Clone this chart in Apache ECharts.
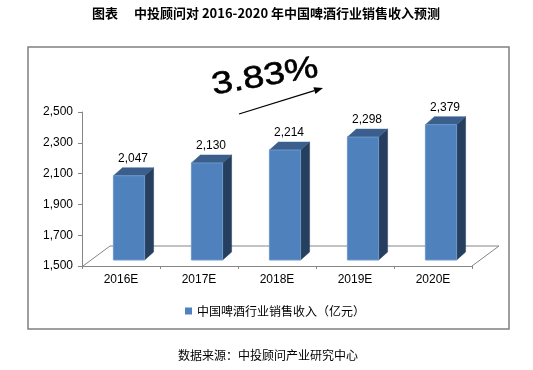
<!DOCTYPE html>
<html><head><meta charset="utf-8">
<script src="https://cdn.jsdelivr.net/npm/echarts@6/dist/echarts.min.js"></script>
<style>html,body{margin:0;padding:0;background:#fff;}#c{width:533px;height:370px;}</style>
</head><body><div id="c"></div>
<script>
const categories = ['2016E','2017E','2018E','2019E','2020E'];
const revenue = [2047, 2130, 2214, 2298, 2379];
const yTicks = {min: 1500, max: 2500, interval: 200};
const titleText = '图表\u3000 中投顾问对 2016-2020 年中国啤酒行业销售收入预测';
const seriesName = '中国啤酒行业销售收入（亿元）';
const growthText = '3.83%';
const sourceText = '数据来源：中投顾问产业研究中心';

const chart = echarts.init(document.getElementById('c'), null, {renderer: 'canvas'});
const FONT = 'Liberation Sans, Arial, sans-serif';
const CJK = '"Noto Sans CJK SC", sans-serif';

function fmt(v){ return v.toLocaleString('en-US'); }

// arrow geometry
const ax0 = 239, ay0 = 114, ax1 = 323, ay1 = 88;
const ang = Math.atan2(ay1 - ay0, ax1 - ax0);
const hl = 9, hw = 3.5;
const bx = ax1 - hl*Math.cos(ang), by = ay1 - hl*Math.sin(ang);
const head = [[ax1, ay1],[bx + hw*Math.sin(ang), by - hw*Math.cos(ang)],[bx - hw*Math.sin(ang), by + hw*Math.cos(ang)]];

chart.setOption({
  animation: false,
  backgroundColor: '#fff',
  grid: {left: 82, right: 61, top: 112, bottom: 104, containLabel: false},
  legend: {
    data: [seriesName], left: 180, top: 300, icon: 'rect', itemWidth: 7, itemHeight: 7, itemGap: 6,
    textStyle: {fontFamily: CJK, fontSize: 12, color: '#000'}
  },
  xAxis: {
    type: 'category', data: categories, boundaryGap: true,
    axisLine: {lineStyle: {color: '#868686', width: 1}},
    axisTick: {show: true, length: 3, lineStyle: {color: '#868686'}},
    axisLabel: {color: '#000', fontFamily: FONT, fontSize: 12, margin: 8},
    splitLine: {show: false}, z: 1
  },
  yAxis: {
    type: 'value', min: yTicks.min, max: yTicks.max, interval: yTicks.interval,
    axisLine: {show: true, lineStyle: {color: '#868686'}},
    axisTick: {show: true, length: 4, lineStyle: {color: '#868686'}},
    axisLabel: {color: '#000', fontFamily: FONT, fontSize: 12, margin: 9, formatter: fmt},
    splitLine: {show: false}
  },
  graphic: [
    {type: 'rect', shape: {x: 28, y: 47, width: 481, height: 282}, style: {fill: 'none', stroke: '#808080', lineWidth: 1.5}, z: 0, silent: true},
    {type: 'polyline', shape: {points: [[83,266],[110,246],[499,246],[472,266]]}, style: {fill: 'none', stroke: '#868686', lineWidth: 1}, z: 0, silent: true},
    {type: 'text', x: 266, y: 13, style: {text: titleText, font: 'bold 13px "Noto Sans CJK SC", serif', fill: '#000', align: 'center', verticalAlign: 'middle'}},
    {type: 'text', x: 268, y: 355, style: {text: sourceText, font: '12px "Noto Sans CJK SC", sans-serif', fill: '#000', align: 'center', verticalAlign: 'middle'}},
    {type: 'text', x: 265, y: 77, rotation: 0.17, scaleX: 1.22, scaleY: 1, style: {text: growthText, font: '31px "Liberation Sans", Arial, sans-serif', fill: '#000', align: 'center', verticalAlign: 'middle', stroke: '#000', lineWidth: 0.6}},
    {type: 'line', shape: {x1: ax0, y1: ay0, x2: bx, y2: by}, style: {stroke: '#000', lineWidth: 1.3}},
    {type: 'polygon', shape: {points: head}, style: {fill: '#000'}}
  ],
  series: [{
    name: seriesName, type: 'custom', z: 5,
    itemStyle: {color: '#4F81BD'},
    data: revenue.map((v, i) => [i, v]),
    encode: {x: 0, y: 1},
    renderItem: function(params, api){
      const i = api.value(0), v = api.value(1);
      const top = api.coord([i, v]);
      const base = api.coord([i, yTicks.min]);
      const band = api.size([1, 0])[0];
      const w = band * 0.4;
      const sx = 8, sy = -6, dx = 9, dy = -8;
      const x0 = top[0] + sx - w/2, x1 = x0 + w;
      const yt = top[1] + sy, yb = base[1] + sy;
      return {type: 'group', children: [
        {type: 'polygon', shape: {points: [[x1, yt],[x1+dx, yt+dy],[x1+dx, yb+dy],[x1, yb]]}, style: {fill: '#263F5F', stroke: '#263F5F', lineWidth: 0.5}},
        {type: 'polygon', shape: {points: [[x0, yt],[x0+dx, yt+dy],[x1+dx, yt+dy],[x1, yt]]}, style: {fill: '#3B5F8D', stroke: '#3B5F8D', lineWidth: 0.5}},
        {type: 'rect', shape: {x: x0, y: yt, width: w, height: yb - yt}, style: {fill: '#4F81BD', stroke: '#6E98CB', lineWidth: 1}},
        {type: 'text', x: top[0] + sx + 4, y: yt - 17, style: {text: fmt(v), font: '12px "Liberation Sans", Arial, sans-serif', fill: '#000', align: 'center', verticalAlign: 'middle'}}
      ]};
    }
  }]
});
</script></body></html>
